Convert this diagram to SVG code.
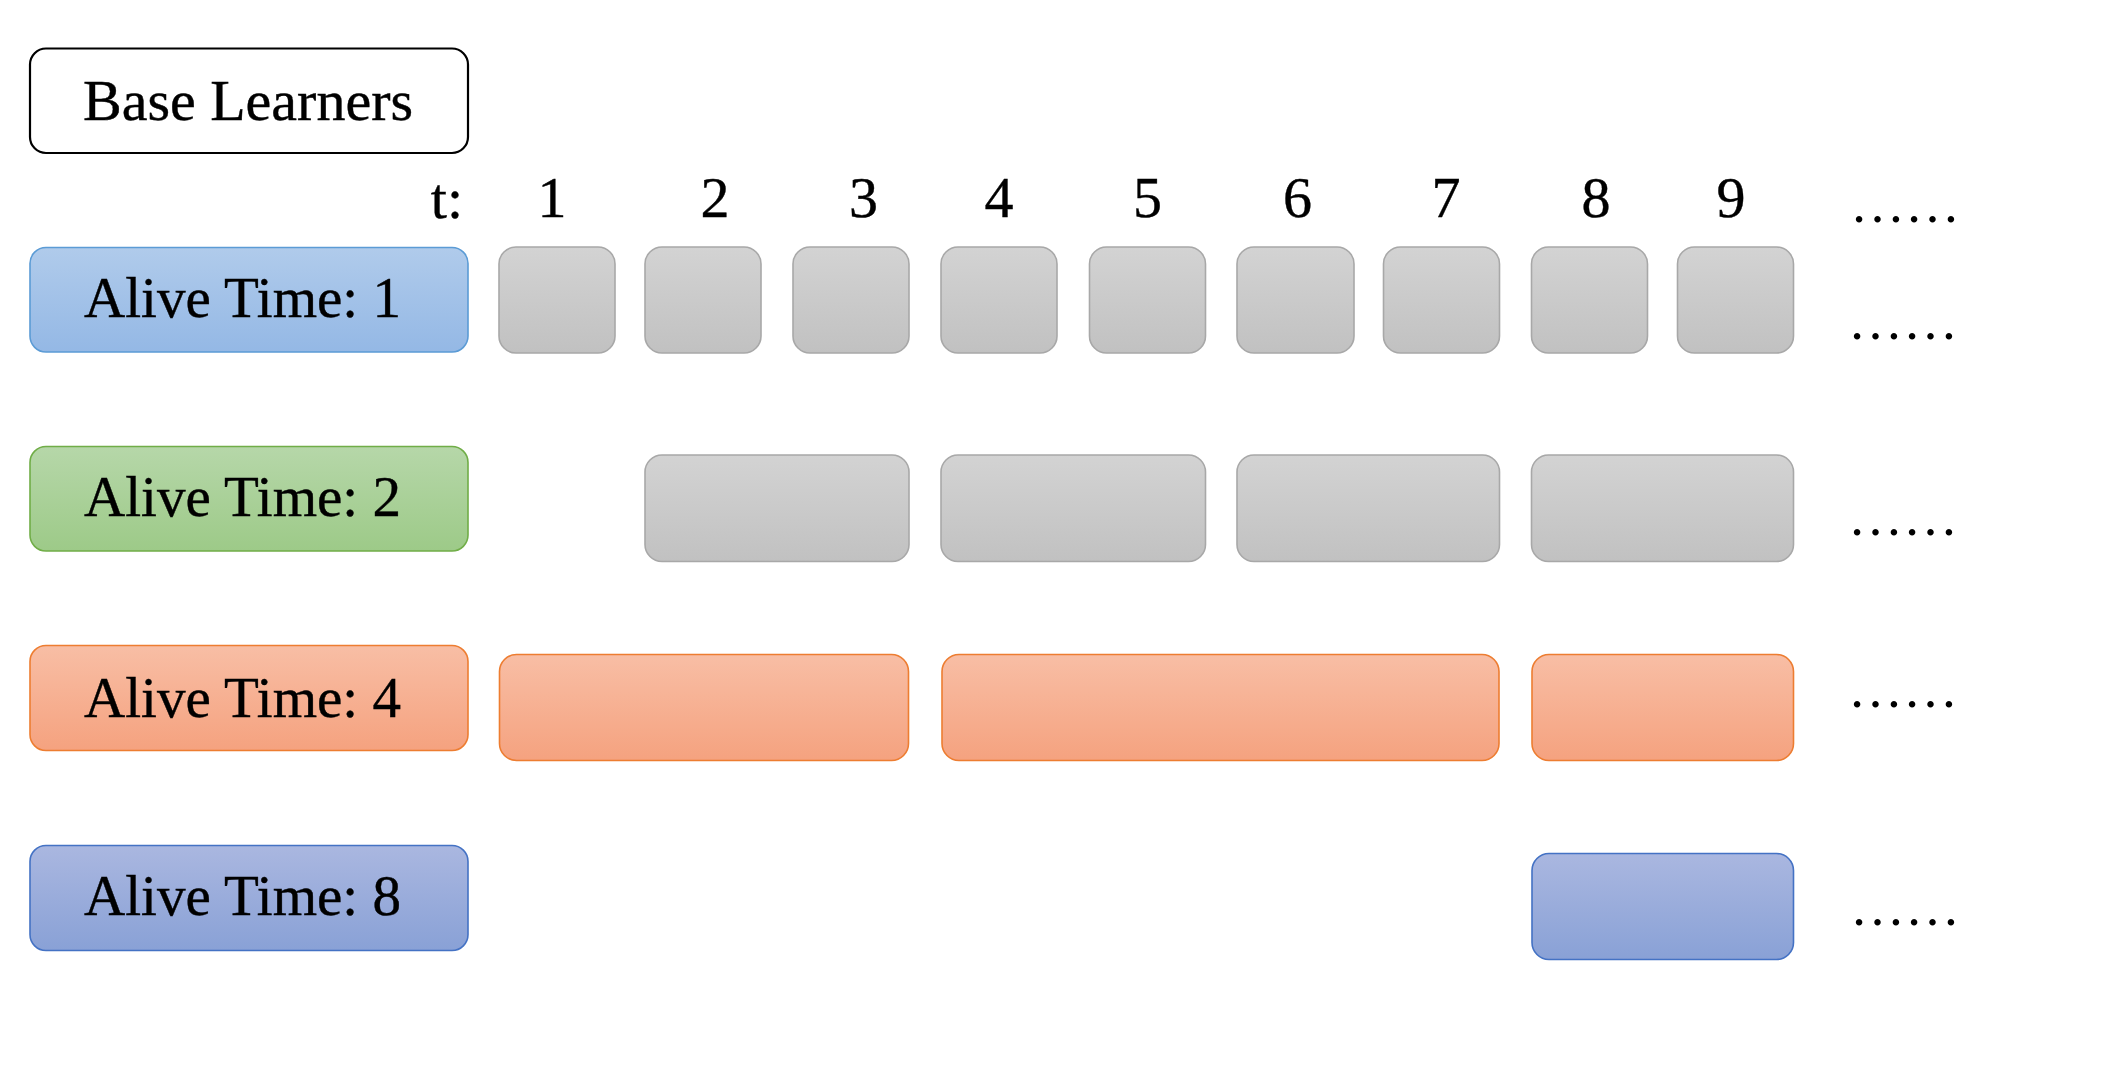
<svg xmlns="http://www.w3.org/2000/svg" width="2122" height="1068" viewBox="0 0 2122 1068">
<defs>
<linearGradient id="gGray" x1="0" y1="0" x2="0" y2="1"><stop offset="0" stop-color="#d3d3d3"/><stop offset="1" stop-color="#c1c1c1"/></linearGradient>
<linearGradient id="gBlue" x1="0" y1="0" x2="0" y2="1"><stop offset="0" stop-color="#b0cbeb"/><stop offset="1" stop-color="#94b8e5"/></linearGradient>
<linearGradient id="gGreen" x1="0" y1="0" x2="0" y2="1"><stop offset="0" stop-color="#b6d7a9"/><stop offset="1" stop-color="#9dca88"/></linearGradient>
<linearGradient id="gOrange" x1="0" y1="0" x2="0" y2="1"><stop offset="0" stop-color="#f8bea5"/><stop offset="1" stop-color="#f5a27f"/></linearGradient>
<linearGradient id="gNavy" x1="0" y1="0" x2="0" y2="1"><stop offset="0" stop-color="#aab7e0"/><stop offset="1" stop-color="#89a1d6"/></linearGradient>
</defs>
<style>
text{font-family:"Liberation Serif","Times New Roman",serif;fill:#000;stroke:#000;stroke-width:0.4}
.lbl{font-size:56px}
.num{font-size:58px;text-anchor:middle}
.dots{font-size:55px;stroke:none}
.base{fill:#fff;stroke:#000;stroke-width:2.2}
.gray{fill:url(#gGray);stroke:#a8a8a8;stroke-width:1.6}
.blue{fill:url(#gBlue);stroke:#5b9bd5;stroke-width:1.6}
.green{fill:url(#gGreen);stroke:#70ad47;stroke-width:1.6}
.orange{fill:url(#gOrange);stroke:#ed7d31;stroke-width:1.6}
.navy{fill:url(#gNavy);stroke:#4472c4;stroke-width:1.6}
</style>
<rect width="2122" height="1068" fill="#fff"/>
<g id="base-learners">
<rect class="base" x="30" y="48.5" width="438" height="104.5" rx="16"/>
<text class="lbl" x="248" y="120" text-anchor="middle" textLength="330" lengthAdjust="spacingAndGlyphs">Base Learners</text>
</g>
<g id="time-axis">
<text class="num" x="463" y="218" style="text-anchor:end">t:</text>
<text class="num" x="552" y="217">1</text>
<text class="num" x="715" y="217">2</text>
<text class="num" x="863.5" y="217">3</text>
<text class="num" x="999" y="217">4</text>
<text class="num" x="1147.5" y="217">5</text>
<text class="num" x="1297.5" y="217">6</text>
<text class="num" x="1446" y="217">7</text>
<text class="num" x="1596" y="217">8</text>
<text class="num" x="1731" y="217">9</text>
<text class="dots" x="1850" y="222">……</text>
</g>
<g id="alive-1">
<rect class="blue" x="30" y="247.5" width="438" height="104.5" rx="16"/>
<text class="lbl" x="84" y="317" textLength="317" lengthAdjust="spacingAndGlyphs">Alive Time: 1</text>
</g>
<g id="alive-2">
<rect class="green" x="30" y="446.5" width="438" height="104.5" rx="16"/>
<text class="lbl" x="84" y="516" textLength="317" lengthAdjust="spacingAndGlyphs">Alive Time: 2</text>
</g>
<g id="alive-4">
<rect class="orange" x="30" y="645.5" width="438" height="105" rx="16"/>
<text class="lbl" x="84" y="716.5" textLength="317" lengthAdjust="spacingAndGlyphs">Alive Time: 4</text>
</g>
<g id="alive-8">
<rect class="navy" x="30" y="845.5" width="438" height="105" rx="16"/>
<text class="lbl" x="84" y="915" textLength="317" lengthAdjust="spacingAndGlyphs">Alive Time: 8</text>
</g>
<g id="row-1">
<rect class="gray" x="499" y="247" width="116" height="106" rx="17"/>
<rect class="gray" x="645" y="247" width="116" height="106" rx="17"/>
<rect class="gray" x="793" y="247" width="116" height="106" rx="17"/>
<rect class="gray" x="941" y="247" width="116" height="106" rx="17"/>
<rect class="gray" x="1089.5" y="247" width="116" height="106" rx="17"/>
<rect class="gray" x="1237" y="247" width="117" height="106" rx="17"/>
<rect class="gray" x="1383.5" y="247" width="116" height="106" rx="17"/>
<rect class="gray" x="1531.5" y="247" width="116" height="106" rx="17"/>
<rect class="gray" x="1677.5" y="247" width="116" height="106" rx="17"/>
<text class="dots" x="1848" y="339">……</text>
</g>
<g id="row-2">
<rect class="gray" x="645" y="455" width="264" height="106.5" rx="17"/>
<rect class="gray" x="941" y="455" width="264.5" height="106.5" rx="17"/>
<rect class="gray" x="1237" y="455" width="262.5" height="106.5" rx="17"/>
<rect class="gray" x="1531.5" y="455" width="262" height="106.5" rx="17"/>
<text class="dots" x="1848" y="535">……</text>
</g>
<g id="row-4">
<rect class="orange" x="499.5" y="654.5" width="409" height="106" rx="17"/>
<rect class="orange" x="942" y="654.5" width="557" height="106" rx="17"/>
<rect class="orange" x="1532" y="654.5" width="261.5" height="106" rx="17"/>
<text class="dots" x="1848" y="707">……</text>
</g>
<g id="row-8">
<rect class="navy" x="1532" y="853.5" width="261.5" height="106" rx="17"/>
<text class="dots" x="1850" y="925">……</text>
</g>
</svg>
